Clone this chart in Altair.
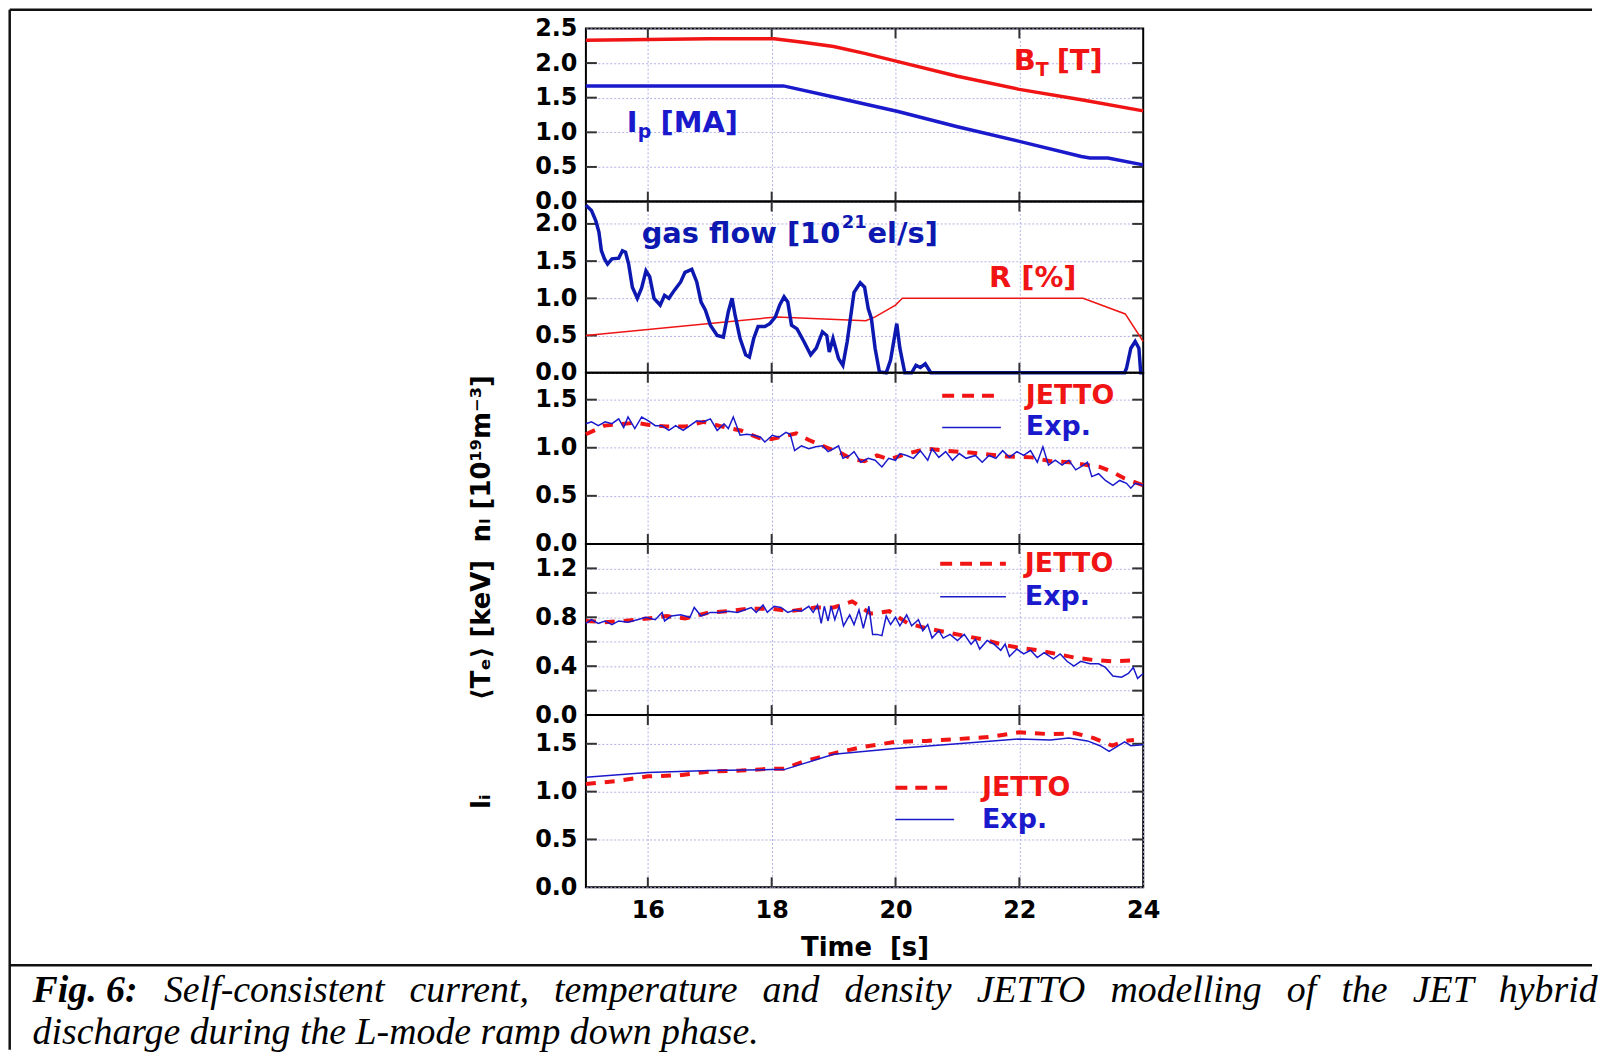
import altair as alt
import pandas as pd

# ---------------- data ----------------
XTICKS = [16, 18, 20, 22]

BT_T = [15.0, 16.0, 17.0, 18.04, 18.5, 19.0, 19.5, 20.04, 21.0, 22.0, 23.0, 24.0]
BT_V = [2.33, 2.34, 2.35, 2.35, 2.30, 2.24, 2.14, 2.02, 1.81, 1.62, 1.47, 1.31]

IP_T = [15.0, 18.19, 19.0, 20.04, 21.0, 22.0, 23.0, 23.14, 23.43, 24.0]
IP_V = [1.67, 1.67, 1.51, 1.30, 1.08, 0.87, 0.65, 0.63, 0.63, 0.53]

GAS_T = [15.00, 15.09, 15.16, 15.21, 15.25, 15.30, 15.35, 15.42, 15.53, 15.59, 15.64, 15.69,
         15.75, 15.83, 15.90, 15.97, 16.03, 16.10, 16.20, 16.27, 16.34, 16.43, 16.53, 16.60,
         16.71, 16.79, 16.86, 16.93, 17.01, 17.12, 17.22, 17.30, 17.36, 17.41, 17.49, 17.58,
         17.64, 17.71, 17.78, 17.89, 17.97, 18.06, 18.13, 18.20, 18.26, 18.32, 18.41, 18.52,
         18.63, 18.72, 18.82, 18.89, 18.93, 18.99, 19.08, 19.15, 19.22, 19.33, 19.43, 19.50,
         19.56, 19.61, 19.67, 19.74, 19.85, 19.92, 20.02, 20.07, 20.15, 20.26, 20.33, 20.40,
         20.48, 20.57, 23.70, 23.73, 23.80, 23.87, 23.93, 23.96, 24.00]
GAS_V = [2.25, 2.18, 2.04, 1.89, 1.64, 1.53, 1.46, 1.53, 1.54, 1.64, 1.62, 1.46,
         1.15, 1.00, 1.14, 1.37, 1.29, 1.00, 0.91, 1.04, 1.00, 1.11, 1.22, 1.35,
         1.39, 1.22, 0.95, 0.84, 0.64, 0.50, 0.48, 0.82, 1.00, 0.77, 0.46, 0.24,
         0.21, 0.46, 0.62, 0.62, 0.66, 0.75, 0.91, 1.02, 0.95, 0.64, 0.59, 0.42,
         0.24, 0.33, 0.55, 0.50, 0.28, 0.46, 0.19, 0.10, 0.42, 1.08, 1.21, 1.15,
         0.86, 0.73, 0.33, 0.01, 0.00, 0.17, 0.66, 0.33, 0.00, 0.00, 0.10, 0.07,
         0.12, 0.00, 0.00, 0.06, 0.33, 0.42, 0.33, 0.00, 0.00]

R_T = [15.0, 18.08, 19.52, 19.67, 20.0, 20.11, 23.03, 23.71, 24.0]
R_V = [0.50, 0.75, 0.70, 0.75, 0.91, 1.00, 1.00, 0.79, 0.42]

NE_EXP_T = [15.00, 15.09, 15.20, 15.31, 15.42, 15.53, 15.61, 15.68, 15.79, 15.90, 16.01, 16.12,
            16.23, 16.34, 16.45, 16.57, 16.68, 16.79, 16.90, 17.01, 17.12, 17.23, 17.30, 17.38,
            17.49, 17.60, 17.71, 17.82, 17.89, 18.01, 18.12, 18.23, 18.30, 18.37, 18.48, 18.60,
            18.71, 18.82, 18.91, 19.00, 19.08, 19.15, 19.26, 19.33, 19.44, 19.56, 19.67, 19.78,
            19.89, 20.00, 20.07, 20.18, 20.29, 20.40, 20.52, 20.59, 20.70, 20.81, 20.92, 21.03,
            21.14, 21.29, 21.40, 21.51, 21.62, 21.73, 21.84, 21.96, 22.07, 22.18, 22.29, 22.38,
            22.47, 22.58, 22.69, 22.80, 22.91, 22.99, 23.10, 23.17, 23.28, 23.39, 23.51, 23.62,
            23.73, 23.80, 23.87, 24.00]
NE_EXP_V = [1.25, 1.27, 1.23, 1.27, 1.25, 1.30, 1.21, 1.32, 1.20, 1.32, 1.28, 1.23,
            1.23, 1.18, 1.23, 1.18, 1.23, 1.28, 1.27, 1.30, 1.18, 1.25, 1.20, 1.32,
            1.13, 1.14, 1.13, 1.11, 1.06, 1.13, 1.11, 1.16, 1.14, 0.97, 1.02, 0.99,
            1.01, 1.02, 0.96, 0.99, 1.02, 0.89, 0.92, 0.96, 0.85, 0.89, 0.87, 0.80,
            0.89, 0.87, 0.94, 0.92, 0.89, 0.97, 0.87, 0.99, 0.90, 0.96, 0.87, 0.94,
            0.89, 0.92, 0.85, 0.92, 0.89, 0.97, 0.90, 0.96, 0.92, 0.97, 0.85, 1.01,
            0.82, 0.87, 0.82, 0.87, 0.77, 0.80, 0.85, 0.70, 0.73, 0.66, 0.61, 0.66,
            0.63, 0.58, 0.63, 0.61]

NE_JET_T = [15.0, 15.3, 15.8, 16.0, 16.3, 16.6, 16.9, 17.2, 17.5, 17.8, 18.0, 18.2, 18.4,
            18.6, 18.9, 19.1, 19.3, 19.5, 19.7, 19.9, 20.2, 20.5, 20.8, 21.2, 21.5, 21.8,
            22.2, 22.5, 22.8, 23.0, 23.3, 23.5, 23.7, 24.0]
NE_JET_V = [1.14, 1.23, 1.26, 1.24, 1.22, 1.22, 1.27, 1.22, 1.18, 1.10, 1.09, 1.12, 1.15,
            1.08, 1.00, 0.95, 0.88, 0.86, 0.92, 0.88, 0.94, 0.99, 0.97, 0.95, 0.93, 0.91,
            0.90, 0.86, 0.85, 0.83, 0.80, 0.75, 0.68, 0.61]

TE_EXP_T = [15.00, 15.09, 15.20, 15.31, 15.42, 15.53, 15.68, 15.83, 15.97, 16.12, 16.23, 16.27,
            16.38, 16.53, 16.68, 16.75, 16.86, 17.01, 17.16, 17.30, 17.45, 17.56, 17.67, 17.75,
            17.86, 17.93, 18.04, 18.15, 18.26, 18.37, 18.48, 18.60, 18.67, 18.74, 18.80, 18.85,
            18.91, 18.96, 19.02, 19.09, 19.16, 19.26, 19.33, 19.41, 19.48, 19.57, 19.63, 19.70,
            19.78, 19.85, 19.92, 20.00, 20.07, 20.18, 20.26, 20.37, 20.44, 20.52, 20.59, 20.70,
            20.77, 20.88, 21.00, 21.11, 21.22, 21.29, 21.36, 21.48, 21.59, 21.70, 21.77, 21.84,
            21.96, 22.07, 22.18, 22.29, 22.40, 22.55, 22.66, 22.77, 22.88, 22.99, 23.14, 23.28,
            23.39, 23.51, 23.65, 23.76, 23.84, 23.91, 24.00]
TE_EXP_V = [0.75, 0.78, 0.75, 0.77, 0.74, 0.77, 0.76, 0.78, 0.80, 0.78, 0.84, 0.77,
            0.81, 0.82, 0.80, 0.88, 0.81, 0.84, 0.84, 0.85, 0.84, 0.86, 0.88, 0.84,
            0.90, 0.84, 0.89, 0.88, 0.84, 0.86, 0.85, 0.89, 0.84, 0.90, 0.75, 0.89,
            0.77, 0.89, 0.78, 0.89, 0.73, 0.82, 0.74, 0.86, 0.71, 0.89, 0.66, 0.66,
            0.65, 0.81, 0.74, 0.80, 0.73, 0.82, 0.73, 0.78, 0.69, 0.74, 0.63, 0.69,
            0.63, 0.66, 0.61, 0.66, 0.58, 0.62, 0.54, 0.61, 0.58, 0.53, 0.58, 0.48,
            0.54, 0.50, 0.53, 0.47, 0.51, 0.46, 0.50, 0.44, 0.40, 0.44, 0.42, 0.42,
            0.39, 0.32, 0.31, 0.34, 0.39, 0.30, 0.34]

TE_JET_T = [15.0, 15.3, 15.6, 16.0, 16.3, 16.6, 17.0, 17.3, 17.6, 18.0, 18.3, 18.7, 19.0,
            19.3, 19.6, 19.9, 20.2, 20.5, 20.8, 21.1, 21.4, 21.7, 22.0, 22.3, 22.6, 22.9,
            23.2, 23.5, 23.9]
TE_JET_V = [0.77, 0.76, 0.77, 0.79, 0.81, 0.79, 0.84, 0.85, 0.87, 0.87, 0.85, 0.88, 0.88,
            0.93, 0.83, 0.85, 0.75, 0.71, 0.68, 0.65, 0.62, 0.58, 0.55, 0.53, 0.50, 0.47,
            0.45, 0.44, 0.45]

LI_EXP_T = [15.0, 16.0, 17.0, 18.0, 18.2, 18.5, 19.0, 20.0, 21.0, 22.0, 22.5, 22.8, 23.1,
            23.3, 23.45, 23.6, 23.7, 23.8, 24.0]
LI_EXP_V = [1.15, 1.20, 1.22, 1.23, 1.23, 1.29, 1.39, 1.45, 1.50, 1.55, 1.54, 1.56, 1.53,
            1.48, 1.42, 1.48, 1.52, 1.48, 1.49]

LI_JET_T = [15.0, 15.5, 16.0, 16.5, 17.0, 17.5, 18.0, 18.2, 18.5, 19.0, 19.5, 20.0, 20.5,
            21.0, 21.5, 22.0, 22.5, 22.9, 23.2, 23.5, 23.7, 23.85]
LI_JET_V = [1.08, 1.11, 1.16, 1.17, 1.21, 1.22, 1.24, 1.24, 1.31, 1.40, 1.47, 1.52, 1.53,
            1.55, 1.57, 1.62, 1.60, 1.61, 1.56, 1.48, 1.53, 1.54]

# ---------------- style ----------------
RED = "#f01414"
BLUE = "#1a1acc"
DBLUE = "#0c18b0"
GRID = "#b0b0e8"
TICKC = "#333333"
FONT = "DejaVu Sans"
SERIF = "Liberation Serif"
W = 560
H = [174, 172, 172, 172, 173]
ONE = pd.DataFrame({"a": [0]})


def df(t, v):
    return pd.DataFrame({"t": t, "v": v})


def xenc(bottom):
    if bottom:
        ax = alt.Axis(values=XTICKS + [24], labels=True, ticks=False, domain=False,
                      grid=True, labelFlush=False, labelPadding=11, labelFontSize=24,
                      title="Time\u00a0\u00a0[s]", titlePadding=13, titleFontSize=26)
    else:
        ax = alt.Axis(values=XTICKS, labels=False, ticks=False, domain=False,
                      grid=True, title=None)
    return alt.X("t:Q", scale=alt.Scale(domain=[15, 24], nice=False, zero=False), axis=ax)


def yenc(top, values, title=None, label_expr=None):
    kw = dict(values=values, ticks=False, domain=False, grid=True, labelPadding=9,
              labelOverlap=False, labelFontSize=24, format=".1f",
              titlePadding=40, titleFontSize=26)
    if label_expr:
        kw["labelExpr"] = label_expr
    if title:
        kw["title"] = title
    else:
        kw["title"] = None
    return alt.Y("v:Q", scale=alt.Scale(domain=[0, top], nice=False, zero=True),
                 axis=alt.Axis(**kw))


def ticks(xe, ye, yt, h):
    xt = pd.DataFrame({"t": XTICKS})
    ytd = pd.DataFrame({"v": yt})
    m = dict(color=TICKC, strokeWidth=2)
    return [
        alt.Chart(xt).mark_rule(**m).encode(x=xe, y=alt.value(0), y2=alt.value(10)),
        alt.Chart(xt).mark_rule(**m).encode(x=xe, y=alt.value(h - 10), y2=alt.value(h)),
        alt.Chart(ytd).mark_rule(**m).encode(y=ye, x=alt.value(0), x2=alt.value(11)),
        alt.Chart(ytd).mark_rule(**m).encode(y=ye, x=alt.value(W - 11), x2=alt.value(W)),
    ]


def line(d, xe, ye, color, width, dash=None):
    kw = dict(color=color, strokeWidth=width)
    if dash:
        kw["strokeDash"] = dash
    return alt.Chart(d).mark_line(**kw).encode(x=xe, y=ye)


def txt(s, x, y, color, size, weight="bold", font=FONT, style="normal", baseline="middle"):
    return alt.Chart(ONE).mark_text(text=s, font=font, fontSize=size, fontWeight=weight,
                                    fontStyle=style, color=color, align="left",
                                    baseline=baseline).encode(x=alt.value(x), y=alt.value(y))


def rule(x, x2, y, y2, color, width, dash=None):
    kw = dict(color=color, strokeWidth=width)
    if dash:
        kw["strokeDash"] = dash
    return alt.Chart(ONE).mark_rule(**kw).encode(
        x=alt.value(x), x2=alt.value(x2), y=alt.value(y), y2=alt.value(y2))


def legend(xl, xl2, xt, yj, ye):
    return [
        rule(xl, xl2, yj, yj, RED, 4, [12, 8]),
        txt("JETTO", xt, yj, RED, 27),
        rule(xl, xl2, ye, ye, BLUE, 1.5),
        txt("Exp.", xt, ye, BLUE, 27),
    ]


# ---------------- panel 1 ----------------
x1 = xenc(False)
y1 = yenc(2.5, [0, 0.5, 1.0, 1.5, 2.0, 2.5])
p1 = alt.layer(
    *ticks(x1, y1, [0.5, 1.0, 1.5, 2.0], H[0]),
    line(df(BT_T, BT_V), x1, y1, RED, 3.5),
    line(df(IP_T, IP_V), x1, y1, BLUE, 3.5),
    txt("B", 430, 33, RED, 29), txt("T", 452, 42, RED, 19), txt("[T]", 473, 33, RED, 29),
    txt("I", 41, 95, BLUE, 29), txt("p", 52, 104, BLUE, 19), txt("[MA]", 75, 95, BLUE, 29),
).properties(width=W, height=H[0])

# ---------------- panel 2 ----------------
x2 = xenc(False)
y2 = yenc(2.3, [0, 0.5, 1.0, 1.5, 2.0])
p2 = alt.layer(
    *ticks(x2, y2, [0.5, 1.0, 1.5, 2.0], H[1]),
    line(df(R_T, R_V), x2, y2, RED, 1.5),
    line(df(GAS_T, GAS_V), x2, y2, DBLUE, 3.5),
    txt("gas flow [10", 56, 33, DBLUE, 29), txt("21", 257, 22, DBLUE, 18),
    txt("el/s]", 283, 33, DBLUE, 29),
    txt("R [%]", 405, 77, RED, 29),
).properties(width=W, height=H[1])

# ---------------- panel 3 ----------------
x3 = xenc(False)
y3 = yenc(1.78, [0, 0.5, 1.0, 1.5], title="n\u2097 [10\u00b9\u2079m\u207b\u00b3]")
p3 = alt.layer(
    *ticks(x3, y3, [0.5, 1.0, 1.5], H[2]),
    line(df(NE_JET_T, NE_JET_V), x3, y3, RED, 4, [10, 9]),
    line(df(NE_EXP_T, NE_EXP_V), x3, y3, BLUE, 1.5),
    *legend(358, 417, 442, 23, 55),
).properties(width=W, height=H[2])

# ---------------- panel 4 ----------------
x4 = xenc(False)
y4 = yenc(1.4, [0, 0.2, 0.4, 0.6, 0.8, 1.0, 1.2], title="\u27e8T\u2091\u27e9 [keV]",
          label_expr="indexof(['0.0','0.4','0.8','1.2'], format(datum.value,'.1f')) >= 0 ? format(datum.value,'.1f') : ''")
p4 = alt.layer(
    *ticks(x4, y4, [0.2, 0.4, 0.6, 0.8, 1.0, 1.2], H[3]),
    line(df(TE_JET_T, TE_JET_V), x4, y4, RED, 4, [10, 9]),
    line(df(TE_EXP_T, TE_EXP_V), x4, y4, BLUE, 1.5),
    *legend(356, 422, 441, 20, 53),
).properties(width=W, height=H[3])

# ---------------- panel 5 (with figure frame and caption) ----------------
x5 = xenc(True)
y5 = yenc(1.8, [0, 0.5, 1.0, 1.5], title="l\u1d62")
caption1 = ("Self-consistent current, temperature and density JETTO modelling of the JET hybrid"
            ).replace(" ", "\u2002\u2006")
p5 = alt.layer(
    *ticks(x5, y5, [0.5, 1.0, 1.5], H[4]),
    line(df(LI_JET_T, LI_JET_V), x5, y5, RED, 4, [10, 9]),
    line(df(LI_EXP_T, LI_EXP_V), x5, y5, BLUE, 1.5),
    *legend(311, 370, 398, 73, 105),
    rule(-579, -579, -708.7, 336.3, "#111111", 2.5),
    rule(-579, 1011, -708.7, -708.7, "#111111", 2.5),
    rule(-579, 1011, 251.3, 251.3, "#111111", 2.5),
    txt("Fig. 6:", -556, 288, "black", 38, weight="bold", font=SERIF, style="italic",
        baseline="alphabetic"),
    txt(caption1, -424, 288, "black", 38, weight="normal", font=SERIF, style="italic",
        baseline="alphabetic"),
    txt("discharge during the L-mode ramp down phase.", -556, 331, "black", 38,
        weight="normal", font=SERIF, style="italic", baseline="alphabetic"),
).properties(width=W, height=H[4])

chart = alt.vconcat(p1, p2, p3, p4, p5, spacing=0, bounds="flush").properties(
    padding={"left": 6.75, "top": 5.0, "right": 0, "bottom": 0},
    background="white",
).configure_view(
    stroke="black", strokeWidth=2
).configure_axis(
    gridColor=GRID, gridDash=[2, 2], gridWidth=1, gridOpacity=1,
    labelFont=FONT, labelFontWeight="bold", labelColor="black",
    titleFont=FONT, titleFontWeight="bold", titleColor="black",
)

chart.save("out.html", embed_options={"renderer": "svg", "actions": False})
